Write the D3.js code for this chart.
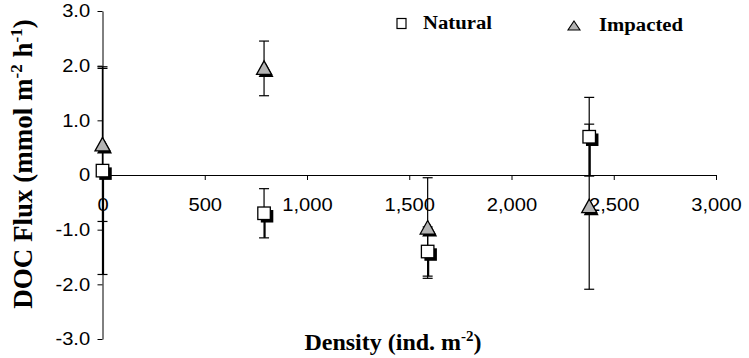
<!DOCTYPE html>
<html>
<head>
<meta charset="utf-8">
<script src="https://cdn.jsdelivr.net/npm/d3@7"></script>
<style>
    body { margin: 0; background: #fff; }
    svg { display: block; }
    .tick text { font-family: "Liberation Sans", Arial, sans-serif; font-size: 18px; fill: #000; }
    .title { font-family: "Liberation Serif", "Times New Roman", serif; font-weight: bold; fill: #000; }
</style>
</head>
<body>
<div id="chart"></div>
<script>
"use strict";

// Values
const density = [0, 790, 1590, 2380];                // ind. m-2
const natural = [0.08, -0.70, -1.40, 0.70];          // DOC flux
const naturalErr = [1.90, 0.45, 0.45, 0.72];
const impacted = [0.55, 1.95, -0.97, -0.58];
const impactedErr = [1.40, 0.50, 0.92, 1.51];
const xTicks = [0, 500, 1000, 1500, 2000, 2500, 3000];
const yTicks = [-3, -2, -1, 0, 1, 2, 3];

const W = 749, H = 358;
const svg = d3.select('#chart').append('svg')
    .attr('width', W)
    .attr('height', H);

let x = d3.scaleLinear().domain([0, 3000]).range([102.5, 716]);
let y = d3.scaleLinear().domain([-3, 3]).range([339, 11]);

// Y axis on the left at x = 0
let yAxis = d3.axisLeft(y)
    .tickValues(yTicks)
    .tickSize(5)
    .tickSizeOuter(0)
    .tickPadding(7)
    // plain hyphen for negatives, like the original
    .tickFormat(function (d) { return d === 0 ? '0' : d.toFixed(1); });
let gy = svg.append('g')
    .attr('transform', 'translate(' + x(0) + ',0)')
    .call(yAxis);
gy.select('.domain').attr('stroke', '#000');
gy.selectAll('.tick text').attr('transform', 'scale(1.12,1)').attr('x', -11);

// X axis crosses at y = 0, labels pushed well below the line
let xAxis = d3.axisBottom(x)
    .tickValues(xTicks)
    .tickSize(5)
    .tickSizeOuter(0)
    .tickPadding(18)
    .tickFormat(d3.format(','));
let gx = svg.append('g')
    .attr('transform', 'translate(0,' + y(0) + ')')
    .call(xAxis);
gx.select('.domain').attr('stroke', '#000');
gx.selectAll('.tick text').attr('transform', 'scale(1.12,1)');
gx.selectAll('.tick').filter(function (d) { return d === 0; }).select('line').remove();

// Error bars
function errorBars(vals, errs, cls) {
    let rows = density.map(function (d, i) { return {x: d, v: vals[i], e: errs[i]}; });
    let g = svg.append('g').classed(cls, true);
    let eb = g.selectAll('g').data(rows).enter().append('g');
    eb.append('line')
        .attr('x1', function (d) { return x(d.x); })
        .attr('x2', function (d) { return x(d.x); })
        .attr('y1', function (d) { return y(d.v + d.e); })
        .attr('y2', function (d) { return y(d.v - d.e); })
        .attr('stroke', '#000')
        .attr('stroke-width', 1.2);
    [1, -1].forEach(function (s) {
        eb.append('line')
            .attr('x1', function (d) { return x(d.x) - 5; })
            .attr('x2', function (d) { return x(d.x) + 5; })
            .attr('y1', function (d) { return y(d.v + s * d.e); })
            .attr('y2', function (d) { return y(d.v + s * d.e); })
            .attr('stroke', '#000')
            .attr('stroke-width', 1.2);
    });
    return eb;
}

let nEb = errorBars(natural, naturalErr, 'natural-err');
// Lower half of the natural bars looks heavier in the reference
nEb.append('line')
    .attr('x1', function (d) { return x(d.x) + 0.8; })
    .attr('x2', function (d) { return x(d.x) + 0.8; })
    .attr('y1', function (d) { return y(d.v); })
    .attr('y2', function (d) { return y(d.v - d.e); })
    .attr('stroke', '#000')
    .attr('stroke-width', 1.6);
errorBars(impacted, impactedErr, 'impacted-err');

// Markers: black drop shadow, then the shape
const SQ = 12.5;
let sq = svg.append('g').selectAll('g')
    .data(density.map(function (d, i) { return {x: d, v: natural[i]}; }))
    .enter().append('g')
    .attr('transform', function (d) { return 'translate(' + x(d.x) + ',' + y(d.v) + ')'; });
sq.append('rect')
    .attr('x', -SQ / 2 + 3).attr('y', -SQ / 2 + 3)
    .attr('width', SQ).attr('height', SQ)
    .attr('fill', '#000');
sq.append('rect')
    .attr('x', -SQ / 2).attr('y', -SQ / 2)
    .attr('width', SQ).attr('height', SQ)
    .attr('fill', '#fff')
    .attr('stroke', '#000')
    .attr('stroke-width', 1.3);

let triPath = 'M0,-7.5L7.5,6L-7.5,6Z';
let tri = svg.append('g').selectAll('g')
    .data(density.map(function (d, i) { return {x: d, v: impacted[i]}; }))
    .enter().append('g')
    .attr('transform', function (d) { return 'translate(' + x(d.x) + ',' + y(d.v) + ')'; });
tri.append('path')
    .attr('d', triPath)
    .attr('transform', 'translate(2,2.5)')
    .attr('fill', '#000');
tri.append('path')
    .attr('d', triPath)
    .attr('fill', '#b4b4b4')
    .attr('stroke', '#000')
    .attr('stroke-width', 1.3);

// Legend
let legend = svg.append('g');
legend.append('rect')
    .attr('x', 397).attr('y', 18.5)
    .attr('width', 9).attr('height', 10)
    .attr('fill', '#fff').attr('stroke', '#000').attr('stroke-width', 1.2);
legend.append('text')
    .classed('title', true)
    .attr('x', 423).attr('y', 29)
    .attr('textLength', 69).attr('lengthAdjust', 'spacingAndGlyphs')
    .style('font-size', '18px')
    .text('Natural');
legend.append('path')
    .attr('d', 'M574,21L580,30L568,30Z')
    .attr('fill', '#b4b4b4').attr('stroke', '#000').attr('stroke-width', 1.1);
legend.append('text')
    .classed('title', true)
    .attr('x', 599).attr('y', 31)
    .attr('textLength', 84).attr('lengthAdjust', 'spacingAndGlyphs')
    .style('font-size', '18px')
    .text('Impacted');

// Axis titles
let xt = svg.append('text')
    .classed('title', true)
    .attr('x', 393).attr('y', 350)
    .style('text-anchor', 'middle')
    .style('font-size', '24px');
xt.append('tspan').text('Density (ind. m');
xt.append('tspan').attr('dy', -9).style('font-size', '15px').text('-2');
xt.append('tspan').attr('dy', 9).text(')');

let yt = svg.append('text')
    .classed('title', true)
    .attr('transform', 'translate(32,164) rotate(-90)')
    .style('text-anchor', 'middle')
    .style('font-size', '27px');
yt.append('tspan').text('DOC Flux (mmol m');
yt.append('tspan').attr('dy', -10).style('font-size', '17px').text('-2');
yt.append('tspan').attr('dy', 10).text(' h');
yt.append('tspan').attr('dy', -10).style('font-size', '17px').text('-1');
yt.append('tspan').attr('dy', 10).text(')');
</script>
</body>
</html>
